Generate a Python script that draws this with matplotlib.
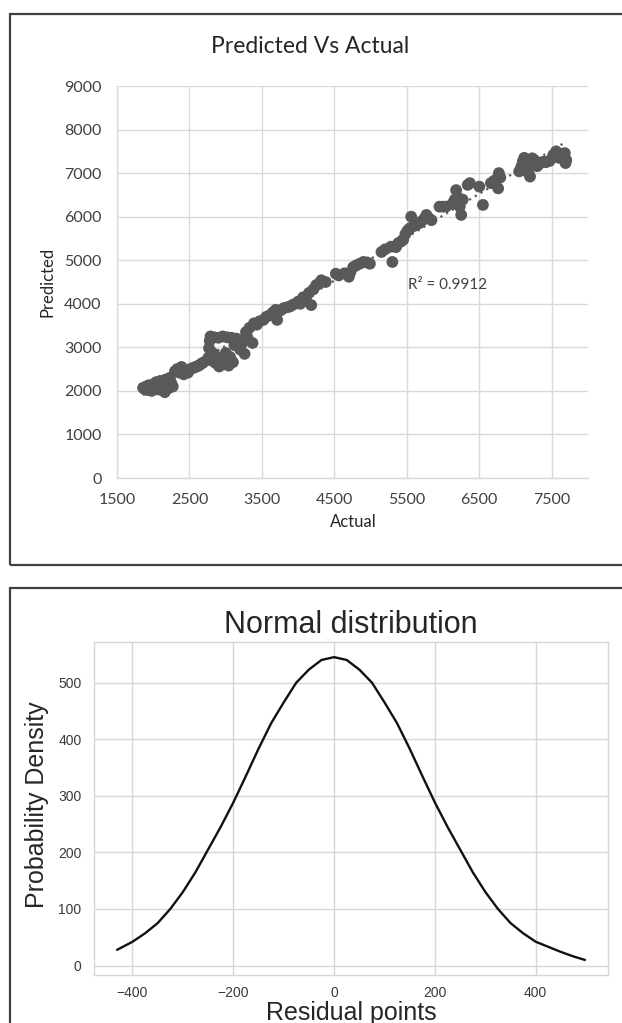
import numpy as np
import matplotlib
matplotlib.use("Agg")
import matplotlib.pyplot as plt
from matplotlib.patches import Rectangle

# ---------------- data ----------------
actual = [
    1860, 1880, 1900, 1920, 1940, 1960, 1980, 2000, 2020, 2040, 2060, 2080, 2100, 2120, 2140, 2160,
    2170, 2190, 2210, 2230, 2250, 2270,
    2300, 2330, 2360, 2390, 2420, 2450, 2480, 2510, 2540, 2570, 2600, 2630, 2660, 2690,
    2760, 2770, 2780, 2790, 2800, 2820, 2840, 2860, 2880, 2900, 2910, 2940, 2960, 2980, 3000, 3020,
    3040, 3060, 3080, 3100, 3120, 3150, 3180, 3200, 3230, 3260, 3280, 3300, 3330, 3370, 3390,
    3430, 3470, 3520, 3560, 3610, 3650, 3690, 3710, 3760, 3800, 3850, 3890, 3930, 4000, 4030, 4070,
    4110, 4150, 4180, 4210, 4250, 4290, 4320, 4380,
    4520, 4560, 4640, 4700, 4720, 4760, 4800, 4850, 4900, 4950, 4990,
    5150, 5200, 5280, 5300, 5350, 5380, 5420, 5450, 5480, 5510, 5540, 5560, 5590, 5630, 5670, 5700,
    5740, 5770, 5800, 5840,
    5950, 6000, 6040, 6130, 6160, 6180, 6200, 6230, 6250, 6270, 6340, 6370, 6500, 6550, 6660, 6700,
    6740, 6770, 6760, 6790,
    7050, 7080, 7100, 7120, 7150, 7180, 7200, 7230, 7260, 7300, 7330, 7380, 7420, 7470, 7520, 7560,
    7600, 7640, 7680, 7690, 7700,
]
predicted = [
    2070, 2040, 2100, 2020, 2130, 2060, 2000, 2150, 2080, 2200, 2120, 2030, 2230, 2160, 2090, 1970,
    2260, 2140, 2060, 2300, 2180, 2100,
    2450, 2500, 2420, 2550, 2380, 2460, 2420, 2500, 2520, 2540, 2560, 2580, 2620, 2650,
    2760, 2980, 3150, 3250, 2700, 2870, 3230, 2640, 2780, 3220, 2560, 2700, 3250, 2620, 2870, 3230,
    2580, 2780, 3220, 2660, 3050, 3200, 3060, 2950, 3100, 2850, 3350, 3230, 3450, 3100, 3550,
    3520, 3600, 3630, 3700, 3740, 3800, 3860, 3630, 3850, 3900, 3920, 3940, 3980, 4050, 4000, 4150,
    4080, 4250, 3970, 4330, 4430, 4470, 4540, 4500,
    4690, 4650, 4700, 4620, 4720, 4840, 4880, 4920, 4960, 4950, 4920,
    5190, 5250, 5310, 4960, 5300, 5390, 5430, 5470, 5600, 5680, 5730, 6000, 5780, 5810, 5850, 5890,
    5950, 6040, 5970, 5920,
    6230, 6230, 6230, 6300, 6390, 6610, 6450, 6230, 6040, 6390, 6730, 6770, 6690, 6270, 6770, 6820,
    6860, 7000, 6650, 6900,
    7040, 7150, 7270, 7350, 7150, 7000, 6920, 7340, 7300, 7160, 7220, 7260, 7250, 7280, 7410, 7500,
    7350, 7440, 7460, 7230, 7300,
]
x_ticks = [1500, 2500, 3500, 4500, 5500, 6500, 7500]
y_ticks = [0, 1000, 2000, 3000, 4000, 5000, 6000, 7000, 8000, 9000]
r2_label = "R² = 0.9912"

residual_x = [-430, -400, -375, -350, -325, -300, -275, -250, -225, -200, -175, -150, -125,
              -100, -75, -50, -25, 0, 25, 50, 75, 100, 125, 150, 175, 200, 225, 250, 275,
              300, 325, 350, 375, 400, 425, 450, 475, 497]
density_y = [28, 42, 57, 75, 100, 130, 165, 205, 245, 288, 335, 383, 428,
             465, 500, 523, 540, 545, 540, 523, 500, 465, 428, 383, 335, 288, 245, 205, 165,
             130, 100, 75, 57, 42, 33, 24, 16, 10]
res_ticks = [-400, -200, 0, 200, 400]
dens_ticks = [0, 100, 200, 300, 400, 500]

# ---------------- figure ----------------
W, H = 622, 1023
fig = plt.figure(figsize=(W / 100, H / 100), dpi=100)
fig.patch.set_facecolor("white")


def box(x0, y0, x1, y1):
    return [x0 / W, 1 - y1 / H, (x1 - x0) / W, (y1 - y0) / H]


# panel frames
for (top, bot) in [(14, 565), (588, 1100)]:
    r = Rectangle((10 / W, 1 - bot / H), 1.2, (bot - top) / H, transform=fig.transFigure,
                  facecolor="none", edgecolor="#404040", linewidth=1.6, clip_on=False)
    fig.add_artist(r)

# ---------------- top: Predicted vs Actual ----------------
XL = "Lato"
ax1 = fig.add_axes(box(117, 86, 588, 478))
ax1.scatter(actual, predicted, s=72, color="#595959", edgecolors="none", zorder=3)
xa = np.array(actual, dtype=float)
ya = np.array(predicted, dtype=float)
coef = np.polyfit(xa, ya, 1)
xs = np.array([xa.min(), xa.max()])
ax1.plot(xs, np.polyval(coef, xs), linestyle=(0, (1, 2)), color="#595959", linewidth=1.6, zorder=4)
ax1.set_xlim(1500, 8000)
ax1.set_ylim(0, 9000)
ax1.set_xticks(x_ticks)
ax1.set_yticks(y_ticks)
ax1.grid(True, color="#d9d9d9", linewidth=1.0, zorder=0)
ax1.set_axisbelow(True)
for s in ["top", "right"]:
    ax1.spines[s].set_visible(False)
for s in ["left", "bottom"]:
    ax1.spines[s].set_color("#d9d9d9")
    ax1.spines[s].set_linewidth(1.0)
ax1.tick_params(length=0, labelsize=11.5, labelcolor="#404040")
ax1.tick_params(axis="y", pad=11)
ax1.tick_params(axis="x", pad=11)
for lab in ax1.get_xticklabels() + ax1.get_yticklabels():
    lab.set_fontfamily(XL)
ax1.set_title("Predicted Vs Actual", fontsize=16.5, fontfamily=XL, color="#262626", pad=24,
              x=(310 - 117) / 471)
ax1.set_xlabel("Actual", fontsize=12, fontfamily=XL, color="#262626", va="center")
ax1.xaxis.set_label_coords(0.501, (478 - 522) / 392)
ax1.set_ylabel("Predicted", fontsize=12, fontfamily=XL, color="#262626", va="center")
ax1.yaxis.set_label_coords((48 - 117) / 471, 0.5)
ax1.text(5510, 4430, r2_label, fontsize=11, fontfamily=XL, color="#404040", va="center", ha="left")

# ---------------- bottom: Normal distribution ----------------
SF = ["Liberation Sans", "DejaVu Sans"]
ax2 = fig.add_axes(box(94, 642, 608, 975))
ax2.plot(residual_x, density_y, color="#111111", linewidth=1.7, solid_joinstyle="round")
ax2.margins(x=0.05, y=0.05)
ax2.set_xticks(res_ticks)
ax2.set_yticks(dens_ticks)
ax2.grid(True, color="#d6d6d6", linewidth=1.0)
ax2.set_axisbelow(True)
for s in ax2.spines.values():
    s.set_color("#d6d6d6")
    s.set_linewidth(1.0)
ax2.tick_params(length=0, labelsize=10, labelcolor="#3a3a3a")
ax2.tick_params(axis="y", pad=9)
ax2.tick_params(axis="x", pad=8)
for lab in ax2.get_xticklabels() + ax2.get_yticklabels():
    lab.set_fontfamily(SF)
ax2.set_title("Normal distribution", fontsize=22, fontfamily=SF, color="#262626", pad=6.5)
ax2.set_xlabel("Residual points", fontsize=18, fontfamily=SF, color="#262626", va="center")
ax2.xaxis.set_label_coords(0.5, (975 - 1013) / 333)
ax2.set_ylabel("Probability Density", fontsize=18, fontfamily=SF, color="#262626", va="center")
ax2.yaxis.set_label_coords((37 - 94) / 514, 0.51)

fig.savefig("out.png", dpi=100)
